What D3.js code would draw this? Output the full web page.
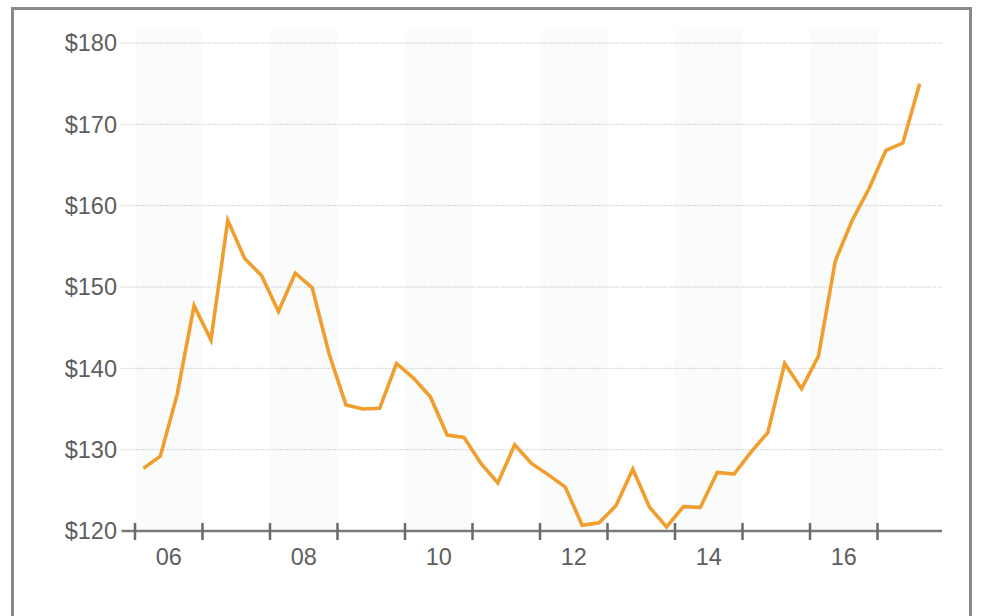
<!DOCTYPE html>
<html>
<head>
<meta charset="utf-8">
<script src="https://cdn.jsdelivr.net/npm/d3@7"></script>
<style>
  html, body { margin: 0; padding: 0; background: #fff; }
  svg { display: block; }
  text { font-family: "Liberation Sans", Arial, sans-serif; }
</style>
</head>
<body>
<svg id="chart" width="984" height="616"></svg>
<script>
// Quarterly values, 2006 Q1 .. 2017 Q3 (dollars)
const startYear = 2006;
const values = [
  127.7, 129.2, 136.8, 147.7,
  143.5, 158.2, 153.5, 151.4,
  147.0, 151.7, 149.9, 141.8,
  135.5, 135.0, 135.1, 140.6,
  138.8, 136.5, 131.8, 131.5,
  128.3, 125.9, 130.6, 128.3,
  126.9, 125.4, 120.7, 121.0,
  123.1, 127.6, 122.9, 120.5,
  123.0, 122.9, 127.2, 127.0,
  129.7, 132.1, 140.6, 137.5,
  141.5, 153.2, 158.2, 162.1,
  166.8, 167.7, 175.0
];
const yTicks = [120, 130, 140, 150, 160, 170, 180];
const yearTicks = [2006, 2007, 2008, 2009, 2010, 2011, 2012, 2013, 2014, 2015, 2016, 2017];
const yearLabels = ["06", "08", "10", "12", "14", "16"];
const labelYears = [2006, 2008, 2010, 2012, 2014, 2016];

const data = values.map((v, i) => ({ t: startYear + 0.125 + i * 0.25, v }));

const svg = d3.select("#chart");
const x = d3.scaleLinear().domain([2006, 2018]).range([135, 945]);
const y = d3.scaleLinear().domain([120, 180]).range([531, 43]);
const xLeft = x(2005.8), xRight = 942;

// outer border
svg.append("rect").attr("x", 12.5).attr("y", 8.5).attr("width", 958).attr("height", 640)
  .attr("fill", "none").attr("stroke", "#8a8a8a").attr("stroke-width", 3);

// alternating year bands
svg.append("g").selectAll("rect").data(labelYears).join("rect")
  .attr("x", d => x(d)).attr("y", 30)
  .attr("width", d => x(d + 1) - x(d)).attr("height", y(120) - 30)
  .attr("fill", "#fafbfb");

// gridlines
svg.append("g").selectAll("line").data(yTicks.filter(d => d > 120)).join("line")
  .attr("x1", xLeft).attr("x2", xRight)
  .attr("y1", d => y(d)).attr("y2", d => y(d))
  .attr("stroke", "#a8a8a8").attr("stroke-width", 1).attr("stroke-dasharray", "1,2");

// y labels
svg.append("g").selectAll("text").data(yTicks).join("text")
  .attr("x", 117).attr("y", d => y(d)).attr("dy", "0.35em")
  .attr("text-anchor", "end").attr("font-size", 23.5).attr("fill", "#5e5e5e")
  .text(d => "$" + d);

// x axis line
svg.append("line").attr("x1", xLeft).attr("x2", xRight)
  .attr("y1", y(120)).attr("y2", y(120))
  .attr("stroke", "#7a7a7a").attr("stroke-width", 2.5);

// ticks
svg.append("g").selectAll("line").data(yearTicks).join("line")
  .attr("x1", d => x(d)).attr("x2", d => x(d))
  .attr("y1", y(120) - 8).attr("y2", y(120) + 9)
  .attr("stroke", "#6a6a6a").attr("stroke-width", 2.5);

// x labels
svg.append("g").selectAll("text").data(labelYears).join("text")
  .attr("x", d => x(d + 0.5)).attr("y", 565)
  .attr("text-anchor", "middle").attr("font-size", 23.5).attr("fill", "#5e5e5e")
  .text((d, i) => yearLabels[i]);

// line
const line = d3.line().x(d => x(d.t)).y(d => y(d.v));
svg.append("path").datum(data).attr("d", line)
  .attr("fill", "none").attr("stroke", "#F09E2D").attr("stroke-width", 3.6)
  .attr("stroke-linejoin", "miter");
</script>
</body>
</html>
